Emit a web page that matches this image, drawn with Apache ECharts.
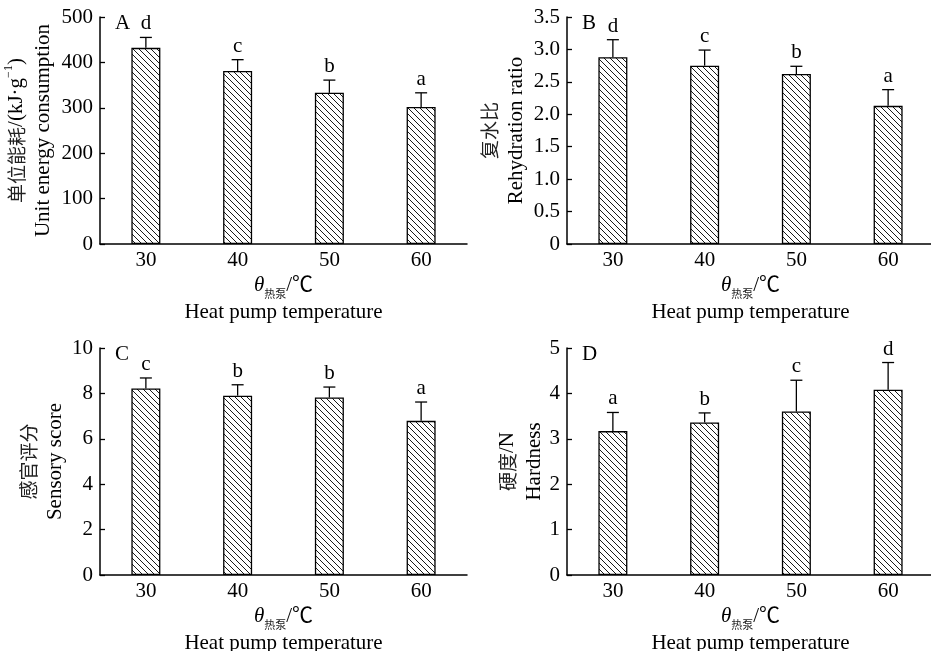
<!DOCTYPE html>
<html>
<head>
<meta charset="utf-8">
<script src="https://cdn.jsdelivr.net/npm/echarts@6/dist/echarts.min.js"></script>
<style>
  html, body { margin: 0; padding: 0; background: #fff; }
  #chart { width: 931px; height: 651px; }
</style>
</head>
<body>
<div id="chart"></div>
<script>
// 热泵温度
var temps = ['30', '40', '50', '60'];

// A 单位能耗
var energyMean = [432, 381, 333, 302];
var energyTop = [455, 406, 361, 333];
var energyLetters = ['d', 'c', 'b', 'a'];

// B 复水比
var rehydMean = [2.88, 2.75, 2.62, 2.13];
var rehydTop = [3.15, 2.99, 2.74, 2.38];
var rehydLetters = ['d', 'c', 'b', 'a'];

// C 感官评分
var sensoryMean = [8.22, 7.90, 7.82, 6.79];
var sensoryTop = [8.68, 8.38, 8.28, 7.62];
var sensoryLetters = ['c', 'b', 'b', 'a'];

// D 硬度
var hardMean = [3.17, 3.36, 3.60, 4.08];
var hardTop = [3.58, 3.57, 4.29, 4.68];
var hardLetters = ['a', 'b', 'c', 'd'];

var FONT = "'Liberation Serif', 'Times New Roman', 'Noto Sans CJK SC', serif";
var CJK = "'Noto Sans CJK SC', sans-serif";

function hatch() {
  var s = 6;
  var c = document.createElement('canvas');
  c.width = s; c.height = s;
  var ctx = c.getContext('2d');
  ctx.fillStyle = '#fff';
  ctx.fillRect(0, 0, s, s);
  ctx.strokeStyle = '#000';
  ctx.lineWidth = 0.9;
  ctx.beginPath();
  ctx.moveTo(-1, -1); ctx.lineTo(s + 1, s + 1);
  ctx.moveTo(s - 1, -1); ctx.lineTo(s + 1, 1);
  ctx.moveTo(-1, s - 1); ctx.lineTo(1, s + 1);
  ctx.stroke();
  return c;
}
var hatchPattern = { image: hatch(), repeat: 'repeat' };

var rich = {
  cn: { fontFamily: CJK, fontSize: 19, color: '#222', lineHeight: 27 },
  sup: { fontFamily: FONT, fontSize: 12, verticalAlign: 'top', lineHeight: 27, padding: [0, 0, 8, 0] },
  it: { fontFamily: FONT, fontSize: 21, fontStyle: 'italic', lineHeight: 27 },
  sub: { fontFamily: CJK, fontSize: 11, verticalAlign: 'bottom', lineHeight: 27, padding: [3, 0, 0, 0], color: '#222' }
};

var panels = [
  { tag: 'A', grid: { left: 100, top: 17, width: 367, height: 227 }, max: 500, interval: 100,
    name: '{cn|单位能耗}/(kJ·g{sup|−1})\nUnit energy consumption', nameGap: 43,
    mean: energyMean, top: energyTop, letters: energyLetters, dec: 0 },
  { tag: 'B', grid: { left: 567, top: 17, width: 367, height: 227 }, max: 3.5, interval: 0.5,
    name: '{cn|复水比}\nRehydration ratio', nameGap: 37,
    mean: rehydMean, top: rehydTop, letters: rehydLetters, dec: 1 },
  { tag: 'C', grid: { left: 100, top: 348, width: 367, height: 227 }, max: 10, interval: 2,
    name: '{cn|感官评分}\nSensory score', nameGap: 31,
    mean: sensoryMean, top: sensoryTop, letters: sensoryLetters, dec: 0 },
  { tag: 'D', grid: { left: 567, top: 348, width: 367, height: 227 }, max: 5, interval: 1,
    name: '{cn|硬度}/N\nHardness', nameGap: 19,
    mean: hardMean, top: hardTop, letters: hardLetters, dec: 0 }
];

function errorBars(letters) {
  return function (params, api) {
    var i = api.value(0);
    var p0 = api.coord([i, api.value(1)]);
    var p1 = api.coord([i, api.value(2)]);
    var cap = 6;
    var st = { stroke: '#000', lineWidth: 1.3 };
    return {
      type: 'group',
      children: [
        { type: 'line', shape: { x1: p0[0], y1: p0[1], x2: p1[0], y2: p1[1] }, style: st },
        { type: 'line', shape: { x1: p1[0] - cap, y1: p1[1], x2: p1[0] + cap, y2: p1[1] }, style: st },
        { type: 'text', x: p1[0], y: p1[1] - 3,
          style: { text: letters[i], fill: '#000', fontFamily: FONT, fontSize: 21, align: 'center', verticalAlign: 'bottom' } }
      ]
    };
  };
}

var option = {
  backgroundColor: '#fff',
  animation: false,
  grid: [],
  xAxis: [],
  yAxis: [],
  series: [],
  graphic: []
};

panels.forEach(function (p, k) {
  var g = Object.assign({ containLabel: false, outerBoundsMode: 'none' }, p.grid);
  option.grid.push(g);
  option.xAxis.push({
    type: 'category',
    gridIndex: k,
    data: temps,
    axisLine: { lineStyle: { color: '#000', width: 1.5 } },
    axisTick: { show: false },
    axisLabel: { color: '#000', fontFamily: FONT, fontSize: 21, margin: 6 },
    name: '{it|θ}{sub|热泵}/℃\nHeat pump temperature',
    nameLocation: 'middle',
    nameGap: 25,
    nameTextStyle: { color: '#000', fontFamily: FONT, fontSize: 21, lineHeight: 27, rich: rich }
  });
  option.yAxis.push({
    type: 'value',
    gridIndex: k,
    min: 0,
    max: p.max,
    interval: p.interval,
    splitLine: { show: false },
    axisLine: { show: true, lineStyle: { color: '#000', width: 1.5 } },
    axisTick: { show: true, inside: true, length: 5, lineStyle: { color: '#000', width: 1.3 } },
    axisLabel: {
      color: '#000', fontFamily: FONT, fontSize: 21, margin: 7,
      formatter: function (v) { return v === 0 ? '0' : v.toFixed(p.dec); }
    },
    name: p.name,
    nameLocation: 'middle',
    nameRotate: 90,
    nameGap: p.nameGap,
    nameMoveOverlap: false,
    nameTextStyle: { color: '#000', fontFamily: FONT, fontSize: 21, lineHeight: 27, rich: rich }
  });
  option.series.push({
    type: 'bar',
    xAxisIndex: k,
    yAxisIndex: k,
    data: p.mean,
    barWidth: 29,
    itemStyle: { color: hatchPattern, borderColor: '#000', borderWidth: 1.3 }
  });
  option.series.push({
    type: 'custom',
    xAxisIndex: k,
    yAxisIndex: k,
    clip: false,
    renderItem: errorBars(p.letters),
    encode: { x: 0, y: [1, 2] },
    data: p.mean.map(function (m, i) { return [i, m, p.top[i]]; }),
    z: 3
  });
  option.graphic.push({
    type: 'text',
    left: p.grid.left + 15,
    top: p.grid.top - 4,
    style: { text: p.tag, fill: '#000', fontFamily: FONT, fontSize: 21 }
  });
});

var chart = echarts.init(document.getElementById('chart'));
chart.setOption(option);
</script>
</body>
</html>
